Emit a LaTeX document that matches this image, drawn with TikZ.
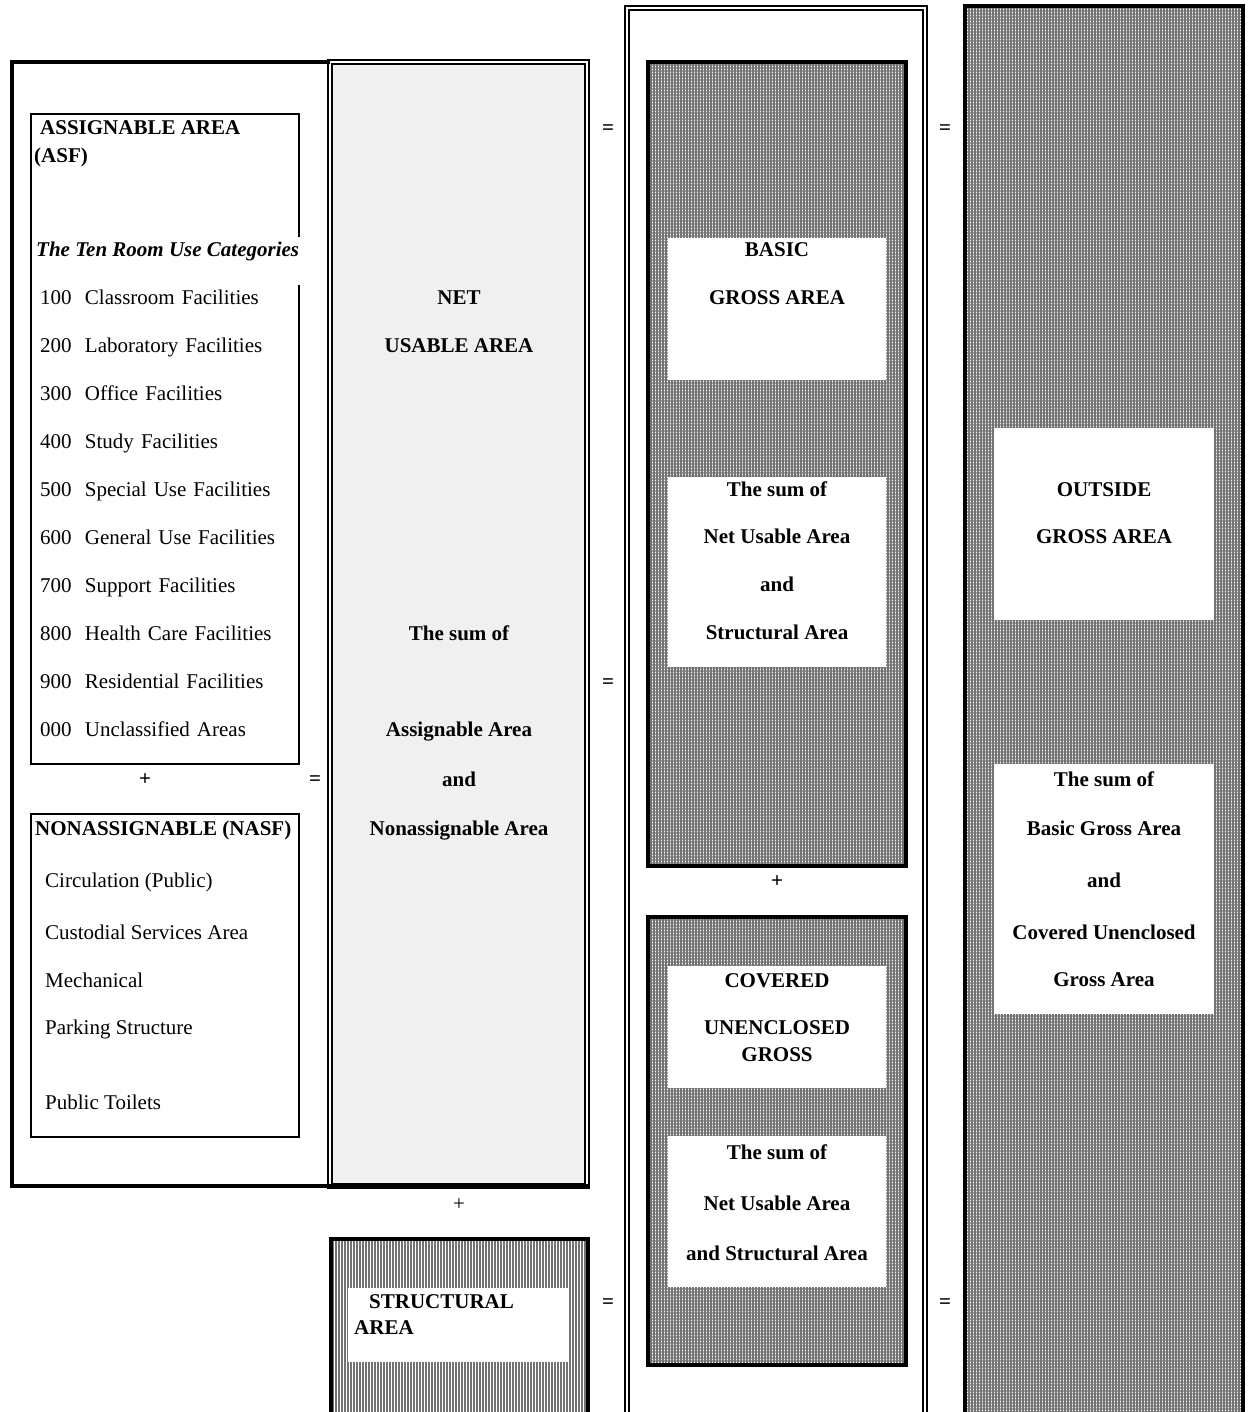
\documentclass[tikz,border=0pt]{standalone}
\usepackage{fontspec}
\setmainfont{Liberation Serif}
\usetikzlibrary{positioning,patterns.meta}
\definecolor{nuagray}{HTML}{F0F0F0}
\newcommand{\rmnum}[1]{\makebox[45pt][l]{#1}}

\begin{document}
\begin{tikzpicture}[x=1pt,y=-1pt,node distance=47.9pt,on grid,
    font=\fontsize{21}{25}\selectfont,
    box/.style={anchor=north west,inner sep=0pt,outer sep=0pt},
    thinbox/.style={box,draw,line width=2pt},
    dblbox/.style={box,draw,line width=1.5pt,double=white,double distance=2.5pt},
    gridbox/.style={box,draw,line width=4pt,pattern={Hatch[distance=3pt,line width=1.3pt]},pattern color=black!55},
    stripebox/.style={box,draw,line width=4pt,pattern={Lines[angle=90,distance=3pt,line width=1.4pt]},pattern color=black!55},
    blank/.style={box,fill=white},
    lbl/.style={inner sep=0pt,font=\fontsize{21}{25}\selectfont\bfseries,text height=14pt,text depth=4pt},
    txt/.style={inner sep=0pt,anchor=west,text height=14pt,text depth=4pt},
    item/.style={inner sep=0pt,text height=14pt,text depth=4pt,text width=260pt,align=left}]
  \useasboundingbox (0,0) rectangle (1248,1412);
  \clip (0,0) rectangle (1248,1412);

  % net usable area and its frame
  \node[dblbox,fill=nuagray,minimum width=257pt,minimum height=1124pt] (nua) at (330,62) {};
  \draw[line width=4pt] (nua.north west) -- (12,62) |- ([xshift=2pt]nua.south east);

  \node[box,minimum width=268pt,minimum height=650pt] (asf) at (31,114) {};
  \draw[line width=2pt] ([yshift=-123pt]asf.north east) -- (asf.north east) -- (asf.north west)
    -- (asf.south west) -- (asf.south east) -- ([yshift=479pt]asf.south east);
  \node[thinbox,minimum width=268pt,minimum height=323pt] (nasf) at (31,814) {};

  \node[stripebox,minimum width=257pt,minimum height=250pt] (str) at (331,1239) {};
  \node[blank,minimum width=220pt,minimum height=74pt] (strw) at (348,1288) {};

  % gross areas
  \node[dblbox,minimum width=298pt,minimum height=1450pt] (bgaframe) at (627,8) {};
  \node[gridbox,minimum width=258pt,minimum height=804pt] (bga) at (648,62) {};
  \node[gridbox,minimum width=258pt,minimum height=448pt] (cug) at (648,917) {};
  \node[gridbox,minimum width=278pt,minimum height=1450pt] (oga) at (965,6) {};

  \node[blank,minimum width=218pt,minimum height=142pt] (bgaw1) at (668,238) {};
  \node[blank,minimum width=218pt,minimum height=190pt] (bgaw2) at (668,477) {};
  \node[blank,minimum width=218pt,minimum height=122pt] (cugw1) at (668,966) {};
  \node[blank,minimum width=218pt,minimum height=151pt] (cugw2) at (668,1136) {};
  \node[blank,minimum width=220pt,minimum height=192pt] (ogaw1) at (994,428) {};
  \node[blank,minimum width=220pt,minimum height=250pt] (ogaw2) at (994,764) {};

  % assignable area
  \node[lbl,anchor=west] (asft) at (40,130) {ASSIGNABLE AREA};
  \node[lbl,anchor=west] (asfs) at (34,158) {(ASF)};
  \node[lbl,anchor=west,font=\fontsize{21}{25}\selectfont\bfseries\itshape] (cats) at (36,252) {The Ten Room Use Categories};
  \node[item] (c100) at (170,300) {\rmnum{100}Classroom Facilities};
  \node[item,below=of c100] (c200) {\rmnum{200}Laboratory Facilities};
  \node[item,below=of c200] (c300) {\rmnum{300}Office Facilities};
  \node[item,below=of c300] (c400) {\rmnum{400}Study Facilities};
  \node[item,below=of c400] (c500) {\rmnum{500}Special Use Facilities};
  \node[item,below=of c500] (c600) {\rmnum{600}General Use Facilities};
  \node[item,below=of c600] (c700) {\rmnum{700}Support Facilities};
  \node[item,below=of c700] (c800) {\rmnum{800}Health Care Facilities};
  \node[item,below=of c800] (c900) {\rmnum{900}Residential Facilities};
  \node[item,below=of c900] (c000) {\rmnum{000}Unclassified Areas};

  % nonassignable area
  \node[lbl,anchor=west] (nasft) at (35,830) {NONASSIGNABLE (NASF)};
  \node[txt] (circ) at (45,882) {Circulation (Public)};
  \node[txt] (cust) at (45,934) {Custodial Services Area};
  \node[txt] (mech) at (45,982) {Mechanical};
  \node[txt] (park) at (45,1029) {Parking Structure};
  \node[txt] (toil) at (45,1104) {Public Toilets};

  \node[lbl] (plus1) at (145,780) {+};
  \node[lbl] (eq0) at (315,780) {=};

  \node[lbl] (nua1) at (459,300) {NET};
  \node[lbl,below=of nua1] (nua2) {USABLE AREA};
  \node[lbl] (nua3) at (459,635) {The sum of};
  \node[lbl,below=96pt of nua3] (nua4) {Assignable Area};
  \node[lbl,below=50pt of nua4] (nua5) {and};
  \node[lbl,below=49pt of nua5] (nua6) {Nonassignable Area};

  \node[inner sep=0pt] (plus2) at (459,1205) {+};
  \node[lbl,anchor=west] (str1) at (369,1303) {STRUCTURAL};
  \node[lbl,anchor=west] (str2) at (354,1329) {AREA};

  \node[lbl] (eq1) at (608,130) {=};
  \node[lbl] (eq2) at (608,683) {=};
  \node[lbl] (eq3) at (608,1303) {=};
  \node[lbl] (eq4) at (945,130) {=};
  \node[lbl] (eq5) at (945,1303) {=};
  \node[lbl] (plus3) at (777,882) {+};

  % basic gross area
  \node[lbl] (bga1) at (777,252) {BASIC};
  \node[lbl,below=of bga1] (bga2) {GROSS AREA};
  \node[lbl] (bga3) at (777,491) {The sum of};
  \node[lbl,below=of bga3] (bga4) {Net Usable Area};
  \node[lbl,below=of bga4] (bga5) {and};
  \node[lbl,below=of bga5] (bga6) {Structural Area};

  % covered unenclosed gross area
  \node[lbl] (cug1) at (777,982) {COVERED};
  \node[lbl,below=47pt of cug1] (cug2) {UNENCLOSED};
  \node[lbl,below=27pt of cug2] (cug3) {GROSS};
  \node[lbl] (cug4) at (777,1154) {The sum of};
  \node[lbl,below=51pt of cug4] (cug5) {Net Usable Area};
  \node[lbl,below=50pt of cug5] (cug6) {and Structural Area};

  % outside gross area
  \node[lbl] (oga1) at (1104,491) {OUTSIDE};
  \node[lbl,below=of oga1] (oga2) {GROSS AREA};
  \node[lbl] (oga3) at (1104,781) {The sum of};
  \node[lbl,below=49pt of oga3] (oga4) {Basic Gross Area};
  \node[lbl,below=52pt of oga4] (oga5) {and};
  \node[lbl,below=52pt of oga5] (oga6) {Covered Unenclosed};
  \node[lbl,below=of oga6] (oga7) {Gross Area};
\end{tikzpicture}
\end{document}
